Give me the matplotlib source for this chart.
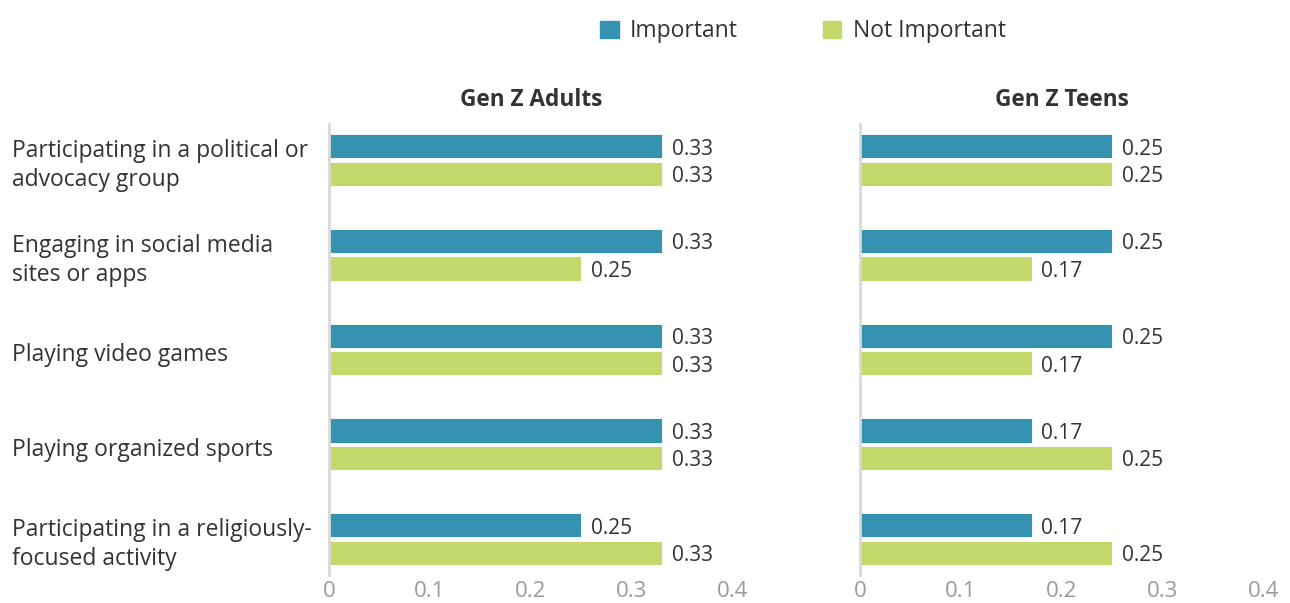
import numpy as np
import matplotlib
matplotlib.use("Agg")
import matplotlib.pyplot as plt
import matplotlib.transforms as mtransforms
from matplotlib.patches import Patch

plt.rcParams["font.family"] = ["Open Sans", "DejaVu Sans"]

# ---- data ----
activities = ["Participating in a political or\nadvocacy group",
              "Engaging in social media\nsites or apps",
              "Playing video games",
              "Playing organized sports",
              "Participating in a religiously-\nfocused activity"]
panels = ["Gen Z Adults", "Gen Z Teens"]
adults_important     = [0.33, 0.33, 0.33, 0.33, 0.25]
adults_not_important = [0.33, 0.25, 0.33, 0.33, 0.33]
teens_important      = [0.25, 0.25, 0.25, 0.17, 0.17]
teens_not_important  = [0.25, 0.17, 0.17, 0.25, 0.25]
xticks = [0, 0.1, 0.2, 0.3, 0.4]

TEAL, GREEN = "#3592b0", "#c4d96b"
TXT, GREY = "#333333", "#9a9a9a"

fig = plt.figure(figsize=(12.9, 6.03), dpi=100)
ax_l = fig.add_axes([0.255, 0.0464, 0.313, 0.748])
ax_r = fig.add_axes([0.6667, 0.0464, 0.313, 0.748])

y = np.arange(len(activities))
h, off = 0.255, 0.145

for ax, title, imp, nimp in [(ax_l, panels[0], adults_important, adults_not_important),
                             (ax_r, panels[1], teens_important, teens_not_important)]:
    ax.barh(y - off, imp, height=h, color=TEAL, edgecolor="white", linewidth=0.6)
    ax.barh(y + off, nimp, height=h, color=GREEN, edgecolor="white", linewidth=0.6)
    for yy, v in zip(y - off, imp):
        ax.text(v + 0.0095, yy + 0.03, f"{v:.2f}", va="center", ha="left", fontsize=15, color=TXT)
    for yy, v in zip(y + off, nimp):
        ax.text(v + 0.0095, yy + 0.03, f"{v:.2f}", va="center", ha="left", fontsize=15, color=TXT)
    ax.set_xlim(0, 0.4)
    ax.set_ylim(4.38, -0.38)
    ax.set_xticks(xticks)
    ax.set_xticklabels([f"{t:g}" for t in xticks])
    ax.tick_params(axis="x", length=0, labelsize=16, labelcolor=GREY, pad=4)
    ax.set_yticks([])
    for s in ["top", "right", "bottom"]:
        ax.spines[s].set_visible(False)
    ax.spines["left"].set_color("#d9d9d9")
    ax.spines["left"].set_linewidth(2)
    ax.set_title(title, fontsize=16.3, fontweight="bold", color=TXT, pad=13)

# category labels on the far left
tr = mtransforms.blended_transform_factory(fig.transFigure, ax_l.transData)
for yy, lab in zip(y, activities):
    ax_l.text(0.0093, yy + 0.06, lab, transform=tr, ha="left", va="center",
              fontsize=16.5, color=TXT, linespacing=1.28)

handles = [Patch(color=TEAL, label="Important"), Patch(color=GREEN, label="Not Important")]
fig.legend(handles=handles, loc="center", bbox_to_anchor=(0.6225, 0.948), ncol=2,
           frameon=False, fontsize=16.5, handlelength=0.8, handleheight=0.8,
           columnspacing=3.7, handletextpad=0.5, labelcolor=TXT)

plt.savefig("out.png", dpi=100)
